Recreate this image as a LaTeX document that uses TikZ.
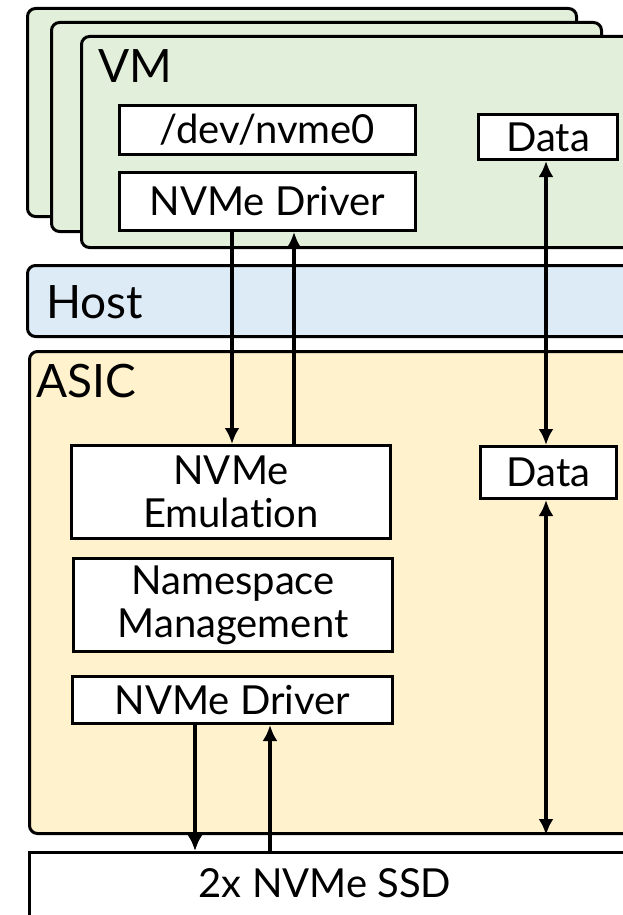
\documentclass[tikz,border=0pt]{standalone}
\usepackage{fontspec}
\setmainfont{Lato}[Ligatures=CommonOff]
\usetikzlibrary{arrows.meta}
\definecolor{vmgreen}{HTML}{E2EFDA}
\definecolor{hostblue}{HTML}{DDEBF7}
\definecolor{asicyellow}{HTML}{FFF2CC}

\begin{document}
\begin{tikzpicture}[x=1pt,y=-1pt,
    layer/.style={draw,line width=3pt,rounded corners=8pt,anchor=north west,inner sep=0},
    unit/.style={draw,fill=white,line width=3pt,anchor=north west,inner sep=0,align=center,font=\boxfontsize},
    tag/.style={anchor=base west,inner sep=0,font=\labelfontsize},
    link/.style={line width=4pt,-{Latex[length=16pt,width=15pt]}},
    twoway/.style={line width=4pt,{Latex[length=16pt,width=15pt]}-{Latex[length=16pt,width=15pt]}}]
    \providecommand{\labelfontsize}{\fontsize{46pt}{50pt}\selectfont}
    \providecommand{\boxfontsize}{\fontsize{40pt}{43pt}\selectfont}
    \useasboundingbox (0,0) rectangle (623,915);
    \clip (0,0) rectangle (623,915);
    % stacked VMs
    \node[layer,fill=vmgreen,minimum width=549pt,minimum height=208pt] (vmback) at (26,7) {};
    \node[layer,fill=vmgreen,minimum width=550pt,minimum height=209pt] (vmmid) at (50,21) {};
    \node[layer,fill=vmgreen,minimum width=560pt,minimum height=211pt] (vm) at (80,35) {};
    \node[tag] (vmtag) at (98,83) {VM};
    \node[unit,minimum width=296pt,minimum height=49pt] (dev) at (118,104) {/dev/nvme0};
    \node[unit,minimum width=296pt,minimum height=58pt] (vmdrv) at (118,171) {NVMe Driver};
    \node[unit,minimum width=139pt,minimum height=45pt] (vmdata) at (477,113) {Data};
    % host
    \node[layer,fill=hostblue,minimum width=620pt,minimum height=71pt] (host) at (26,264) {};
    \node[tag] (hosttag) at (46,318) {Host};
    % asic
    \node[layer,fill=asicyellow,minimum width=620pt,minimum height=482pt] (asic) at (28,350) {};
    \node[tag] (asictag) at (36,397) {ASIC};
    \node[unit,minimum width=319pt,minimum height=93pt] (emul) at (70,444) {NVMe\\Emulation};
    \node[unit,minimum width=319pt,minimum height=93pt] (nsmgmt) at (72,557) {Namespace\\Management};
    \node[unit,minimum width=320pt,minimum height=47pt] (asicdrv) at (71,675) {NVMe Driver};
    \node[unit,minimum width=136pt,minimum height=52pt] (asicdata) at (479,445) {Data};
    % ssd
    \node[draw,fill=white,line width=3pt,anchor=north west,minimum width=620pt,minimum height=100pt] (ssd) at (28,851) {};
    \node[font=\boxfontsize] (ssdtag) at (325,883) {2x NVMe SSD};
    % connectors
    \draw[link] ([xshift=114pt]vmdrv.south west) -- ([xshift=162pt]emul.north west);
    \draw[link] ([xshift=224pt]emul.north west) -- ([xshift=176pt]vmdrv.south west);
    \draw[twoway] ([xshift=69pt]vmdata.south west) -- ([xshift=67pt]asicdata.north west);
    \draw[twoway] ([xshift=67pt]asicdata.south west) -- ([xshift=518pt]asic.south west);
    \draw[link] ([xshift=124pt]asicdrv.south west) -- ([xshift=167pt]ssd.north west);
    \draw[link] ([xshift=242pt]ssd.north west) -- ([xshift=199pt]asicdrv.south west);
\end{tikzpicture}
\end{document}
